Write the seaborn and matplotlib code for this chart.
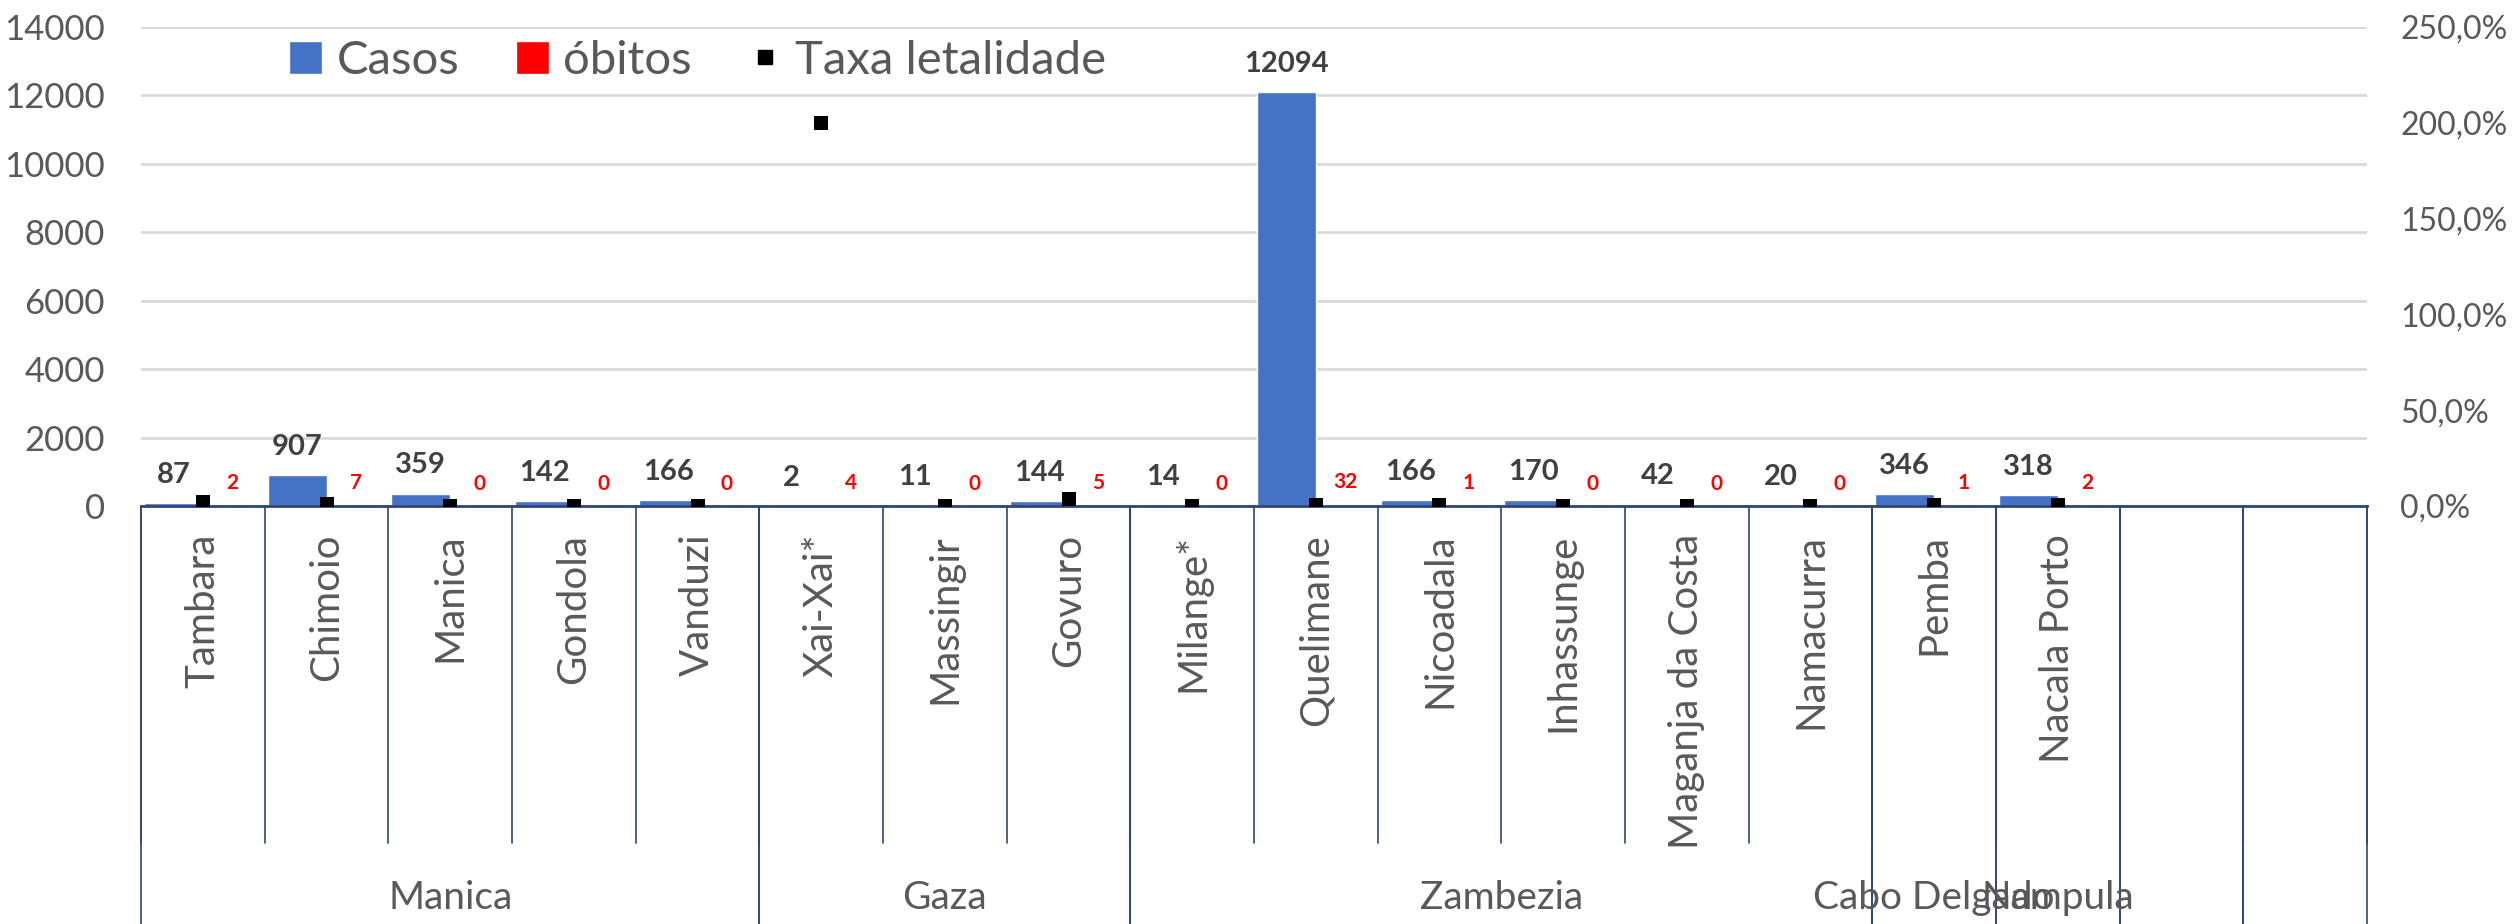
import numpy as np
import pandas as pd
import matplotlib.pyplot as plt
import seaborn as sns
from matplotlib.patches import Patch
from matplotlib.lines import Line2D
from matplotlib.ticker import FuncFormatter

# dados
distritos = ['Tambara', 'Chimoio', 'Manica', 'Gondola', 'Vanduzi', 'Xai-Xai*',
             'Massingir', 'Govuro', 'Milange*', 'Quelimane', 'Nicoadala',
             'Inhassunge', 'Maganja da Costa', 'Namacurra', 'Pemba', 'Nacala Porto']
casos = [87, 907, 359, 142, 166, 2, 11, 144, 14, 12094, 166, 170, 42, 20, 346, 318]
obitos = [2, 7, 0, 0, 0, 4, 0, 5, 0, 32, 1, 0, 0, 0, 1, 2]
taxa = [2.3, 0.8, 0.0, 0.0, 0.0, 200.0, 0.0, 3.5, 0.0, 0.3, 0.6, 0.0, 0.0, 0.0, 0.3, 0.6]
provincias = ['Manica', 'Gaza', 'Zambezia', 'Cabo Delgado', 'Nampula', '', '']
n_por_provincia = [5, 3, 6, 1, 1, 1, 1]

AZUL = '#4472C4'
VERMELHO = '#FF0000'
CINZA = '#595959'
NAVY = '#2F4673'

sns.set_theme(style='white')
plt.rcParams['font.family'] = ['Lato', 'DejaVu Sans']

df = pd.DataFrame({'distrito': distritos * 2,
                   'valor': casos + obitos,
                   'serie': ['Casos'] * len(distritos) + ['óbitos'] * len(distritos)})

fig = plt.figure(figsize=(25.14, 9.24), dpi=100)
ax = fig.add_axes([141 / 2514, 1 - 506 / 924, (2367 - 141) / 2514, (506 - 27) / 924])

sns.barplot(data=df, x='distrito', y='valor', hue='serie', order=distritos,
            hue_order=['Casos', 'óbitos'], palette=[AZUL, VERMELHO], saturation=1,
            width=0.95, gap=0, errorbar=None, legend=False, ax=ax)

# rótulos das barras
ax.bar_label(ax.containers[0], labels=[str(v) for v in casos], padding=11,
             fontsize=21, fontweight='bold', color='#404040')
ax.bar_label(ax.containers[1], labels=[str(v) for v in obitos], padding=9,
             fontsize=15, fontweight='bold', color=VERMELHO)

n_slots = sum(n_por_provincia)
ax.set_ylim(0, 14000)
ax.set_yticks(range(0, 14001, 2000))
ax.yaxis.grid(True, color='#D9D9D9', linewidth=2)
ax.set_axisbelow(True)
for s in ['top', 'right', 'left']:
    ax.spines[s].set_visible(False)
ax.spines['bottom'].set_color(NAVY)
ax.spines['bottom'].set_linewidth(2)
ax.tick_params(axis='y', length=0, pad=26, labelsize=25, labelcolor=CINZA)
ax.set_xlabel('')
ax.set_ylabel('')

# eixo secundário: taxa de letalidade
ax2 = ax.twinx()
sns.stripplot(x=distritos, y=taxa, order=distritos, jitter=False, marker='s',
              color='black', size=10, linewidth=0, ax=ax2)
ax2.set_ylim(0, 250)
ax2.set_yticks(range(0, 251, 50))
ax2.yaxis.set_major_formatter(FuncFormatter(lambda v, p: f'{v:.1f}%'.replace('.', ',')))
ax2.tick_params(axis='y', length=0, pad=24, labelsize=23, labelcolor=CINZA)
for s in ax2.spines.values():
    s.set_visible(False)
ax2.set_ylabel('')

ax.set_xlim(-0.5, n_slots - 0.5)
ax.set_xticks(range(len(distritos)))
ax.set_xticklabels(distritos, rotation=90, fontsize=29, color=CINZA,
                   va='top', ha='center')
ax.tick_params(axis='x', length=0, pad=20)

# separadores do eixo de categorias
trans = ax.get_xaxis_transform()
y_cat = -0.7035
y_fim = -0.875
for i in range(n_slots + 1):
    ax.add_line(Line2D([i - 0.5, i - 0.5], [0, y_cat], transform=trans,
                       color=NAVY, linewidth=1.2, clip_on=False))
inicio = 0
for nome, n in zip(provincias, n_por_provincia):
    for xb in (inicio, inicio + n):
        ax.add_line(Line2D([xb - 0.5, xb - 0.5], [0, y_fim], transform=trans,
                           color=NAVY, linewidth=1.2, clip_on=False))
    if nome:
        ax.text(inicio + (n - 1) / 2, -0.818, nome, transform=trans, ha='center',
                va='center', fontsize=28, color=CINZA)
    inicio += n

handles = [Patch(facecolor=AZUL, label='Casos'),
           Patch(facecolor=VERMELHO, label='óbitos'),
           Line2D([], [], marker='s', color='black', linestyle='none',
                  markersize=10, label='Taxa letalidade')]
fig.legend(handles=handles, loc='center left', bbox_to_anchor=(0.115, 0.934),
           ncol=3, frameon=False, fontsize=34, labelcolor=CINZA,
           handlelength=0.7, handleheight=0.7, handletextpad=0.3,
           columnspacing=1.2, borderpad=0, borderaxespad=0)

fig.savefig('out.png', dpi=100)
